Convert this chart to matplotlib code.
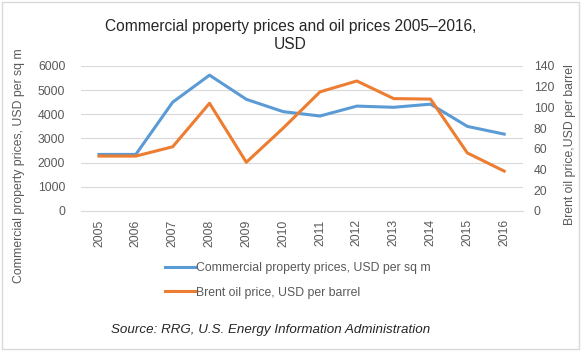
import numpy as np
import matplotlib.pyplot as plt
from matplotlib.patches import Rectangle

years = ['2005', '2006', '2007', '2008', '2009', '2010',
         '2011', '2012', '2013', '2014', '2015', '2016']
property_prices = [2340, 2340, 4500, 5620, 4620, 4110, 3930, 4340, 4290, 4420, 3500, 3180]
oil_prices = [53, 53, 62, 104, 47, 80, 115, 125.5, 108.5, 108, 56, 38.5]

blue = '#5B9BD5'
orange = '#ED7D31'
grey = '#595959'

plt.rcParams['font.family'] = ['Liberation Sans', 'DejaVu Sans']

fig = plt.figure(figsize=(5.81, 3.52), dpi=100)
ax = fig.add_axes([0.1387, 0.4006, 0.7608, 0.412])
ax2 = ax.twinx()

x = np.arange(len(years))
ax.plot(x, property_prices, color=blue, lw=2.2, label='Commercial property prices, USD per sq m')
ax2.plot(x, oil_prices, color=orange, lw=2.2, label='Brent oil price, USD per barrel')

ax.set_xlim(-0.5, len(years) - 0.5)
ax.set_ylim(0, 6000)
ax.set_yticks(np.arange(0, 6001, 1000))
ax2.set_ylim(0, 140)
ax2.set_yticks(np.arange(0, 141, 20))
ax.set_xticks(x)
ax.set_xticklabels(years, rotation=90)
ax.grid(axis='y', color='#D9D9D9', lw=0.8)
ax.set_axisbelow(True)

for a in (ax, ax2):
    for s in a.spines.values():
        s.set_visible(False)
    a.tick_params(length=0, colors=grey, labelsize=8.8)
ax.spines['bottom'].set_visible(True)
ax.spines['bottom'].set_color('#D9D9D9')
ax.tick_params(axis='y', pad=11)
ax.tick_params(axis='x', pad=6)
ax2.tick_params(axis='y', pad=8)

fig.text(0.5, 0.945, 'Commercial property prices and oil prices 2005\u20132016,\nUSD',
         ha='center', va='top', fontsize=11.2, color='#262626', linespacing=1.25)
fig.text(0.033, 0.53, 'Commercial property prices, USD per sq m', rotation=90,
         ha='center', va='center', fontsize=8.8, color=grey)
fig.text(0.981, 0.59, 'Brent oil price,USD per barrel', rotation=90,
         ha='center', va='center', fontsize=8.8, color=grey)

h1, l1 = ax.get_legend_handles_labels()
h2, l2 = ax2.get_legend_handles_labels()
fig.legend(h1 + h2, l1 + l2, loc='center left', bbox_to_anchor=(0.265, 0.203),
           frameon=False, fontsize=8.8, labelcolor=grey, handlelength=2.5,
           handletextpad=0.05, labelspacing=1.0)

fig.text(0.465, 0.062, 'Source: RRG, U.S. Energy Information Administration',
         ha='center', va='center', fontsize=9.6, style='italic', color='#262626')

fig.patches.append(Rectangle((0.004, 0.008), 0.992, 0.985, transform=fig.transFigure,
                             fill=False, edgecolor='#D9D9D9', lw=1))

fig.savefig('out.png', dpi=100)
